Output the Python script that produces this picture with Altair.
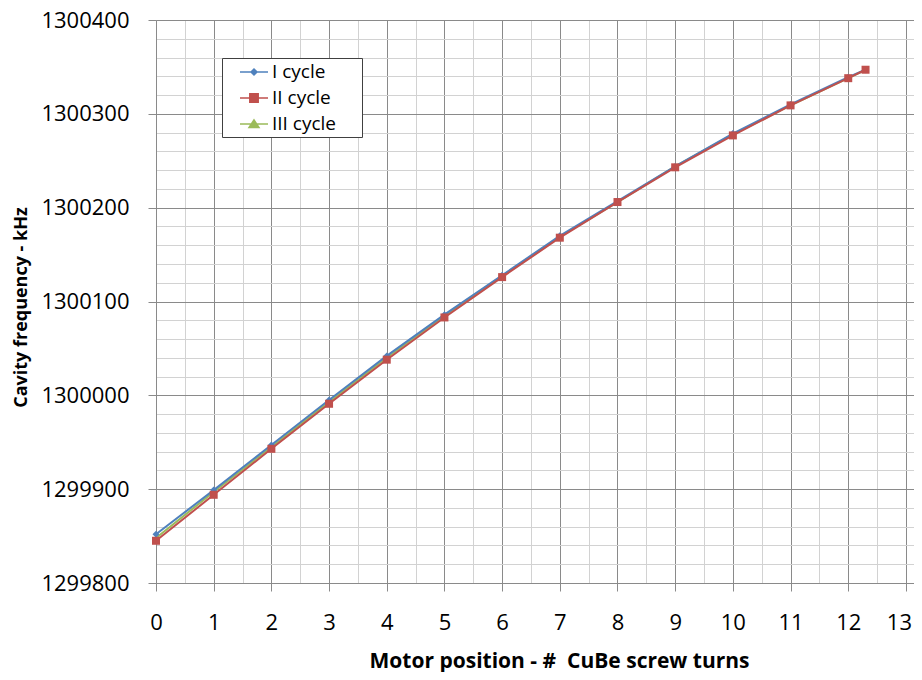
import altair as alt
import pandas as pd

# ---- data ----
positions = [0, 1, 2, 3, 4, 5, 6, 7, 8, 9, 10, 11, 12, 12.3]
cycle_1 = [1299852, 1299899, 1299947, 1299995, 1300042, 1300086, 1300128,
           1300170, 1300207, 1300244, 1300279, 1300310, 1300339, 1300347]
cycle_2 = [1299845, 1299894, 1299943, 1299991, 1300038, 1300083, 1300126,
           1300168, 1300206, 1300243, 1300277, 1300309, 1300338, 1300347]
cycle_3 = [1299848, 1299897, 1299945, 1299993, 1300040, 1300085, 1300127,
           1300169, 1300206, 1300244, 1300278, 1300309, 1300338, 1300347]

series_names = ["I cycle", "II cycle", "III cycle"]
series_colors = ["#4F81BD", "#C0504D", "#9BBB59"]
series_shapes = ["diamond", "square", "triangle-up"]
# legend symbols: a short line with the marker on it (trailing move widens the box)
legend_paths = [
    "M0.4,0H3.2M1.8,-0.3L2.1,0L1.8,0.3L1.5,0ZM12,0",
    "M0.4,0H3.2M1.38,-0.42H2.22V0.42H1.38ZM12,0",
    "M0.4,0H3.2M1.8,-0.42L2.3,0.35H1.3ZM12,0",
]

x_major = [0, 1, 2, 3, 4, 5, 6, 7, 8, 9, 10, 11, 12, 13]
x_minor = [0, 0.5, 1, 1.5, 2, 2.5, 3, 3.5, 4, 4.5, 5, 5.5, 6, 6.5, 7, 7.5,
           8, 8.5, 9, 9.5, 10, 10.5, 11, 11.5, 12, 12.5, 13]
y_major = [1299800, 1299900, 1300000, 1300100, 1300200, 1300300, 1300400]
y_minor = [1299800, 1299820, 1299840, 1299860, 1299880, 1299900, 1299920,
           1299940, 1299960, 1299980, 1300000, 1300020, 1300040, 1300060,
           1300080, 1300100, 1300120, 1300140, 1300160, 1300180, 1300200,
           1300220, 1300240, 1300260, 1300280, 1300300, 1300320, 1300340,
           1300360, 1300380, 1300400]

rows = []
for name, vals in zip(series_names, [cycle_1, cycle_2, cycle_3]):
    for xp, v in zip(positions, vals):
        rows.append({"pos": xp, "freq": v, "series": name})
df = pd.DataFrame(rows)

FONT = "Open Sans"
MAJOR = "#8a8a8a"
MINOR = "#d2d2d2"

xs = alt.Scale(domain=[0, 13.14], nice=False, zero=False)
ys = alt.Scale(domain=[1299800, 1300400], nice=False, zero=False)

minor_x = alt.Axis(values=x_minor, grid=True, gridColor=MINOR, gridWidth=1,
                   labels=False, ticks=False, domain=False, title=None,
                   orient="bottom")
minor_y = alt.Axis(values=y_minor, grid=True, gridColor=MINOR, gridWidth=1,
                   labels=False, ticks=False, domain=False, title=None,
                   orient="left")
major_x = alt.Axis(values=x_major, grid=True, gridColor=MAJOR, gridWidth=1,
                   format="d", labelFont=FONT, labelFontSize=22,
                   labelColor="black", labelPadding=21, tickSize=8,
                   labelOffset={"condition": {"test": "datum.value == 13", "value": -7}, "value": 0},
                   tickColor=MAJOR, domainColor=MAJOR,
                   title="Motor position - #\u00a0 CuBe screw turns",
                   titleFont=FONT, titleFontSize=21, titleFontWeight="bold",
                   titleColor="black", titleX=403, titleY=84,
                   titleBaseline="alphabetic", titleAlign="center",
                   orient="bottom", labelFlush=False)
major_y = alt.Axis(values=y_major, grid=True, gridColor=MAJOR, gridWidth=1,
                   format="d", labelFont=FONT, labelFontSize=22,
                   labelColor="black", labelPadding=19, tickSize=8,
                   tickColor=MAJOR, domainColor=MAJOR,
                   title="Cavity frequency - kHz",
                   titleFont=FONT, titleFontSize=18, titleFontWeight="bold",
                   titleColor="black", titleX=-135, titleY=287,
                   titleAngle=270, titleBaseline="middle", titleAlign="center",
                   orient="left", labelFlush=False)

base = alt.Chart(df)


def series_layers(idx, xaxis, yaxis, size):
    name = series_names[idx]
    sub = base.transform_filter(alt.datum.series == name)
    line = sub.mark_line(color=series_colors[idx], strokeWidth=2).encode(
        x=alt.X("pos:Q", scale=xs, axis=xaxis),
        y=alt.Y("freq:Q", scale=ys, axis=yaxis),
    )
    pts = sub.mark_point(shape=series_shapes[idx], filled=True, size=size,
                         opacity=1, color=series_colors[idx]).encode(
        x=alt.X("pos:Q", scale=xs, axis=None),
        y=alt.Y("freq:Q", scale=ys, axis=None),
    )
    return line, pts


g_line, g_pts = series_layers(2, minor_x, minor_y, 49)
b_line, b_pts = series_layers(0, major_x, major_y, 49)
r_line, r_pts = series_layers(1, None, None, 64)

legend = alt.Legend(
    orient="none", legendX=66, legendY=38, title=None,
    padding=3, fillColor="white", strokeColor="#404040",
    symbolSize=400, symbolStrokeWidth=1.5, labelOffset=25,
    labelFont=FONT, labelFontSize=19, labelColor="black",
    rowPadding=5,
)
legend_layer = base.transform_filter("false").mark_point(
    filled=True, opacity=1, strokeWidth=1.5).encode(
    fill=alt.Fill("series:N", scale=alt.Scale(domain=series_names, range=series_colors), legend=legend),
    stroke=alt.Stroke("series:N", scale=alt.Scale(domain=series_names, range=series_colors), legend=legend),
    shape=alt.Shape("series:N", scale=alt.Scale(domain=series_names, range=legend_paths), legend=legend),
)

chart = alt.layer(
    g_line, g_pts, b_line, b_pts, r_line, r_pts, legend_layer
).resolve_axis(x="independent", y="independent").properties(
    width=758, height=563,
    autosize=alt.AutoSizeParams(type="none"),
    padding={"left": 148, "top": 12, "right": 0, "bottom": 89},
    background="white",
).configure_view(stroke=None)

chart.save("out.html", embed_options={"renderer": "svg", "actions": False})
